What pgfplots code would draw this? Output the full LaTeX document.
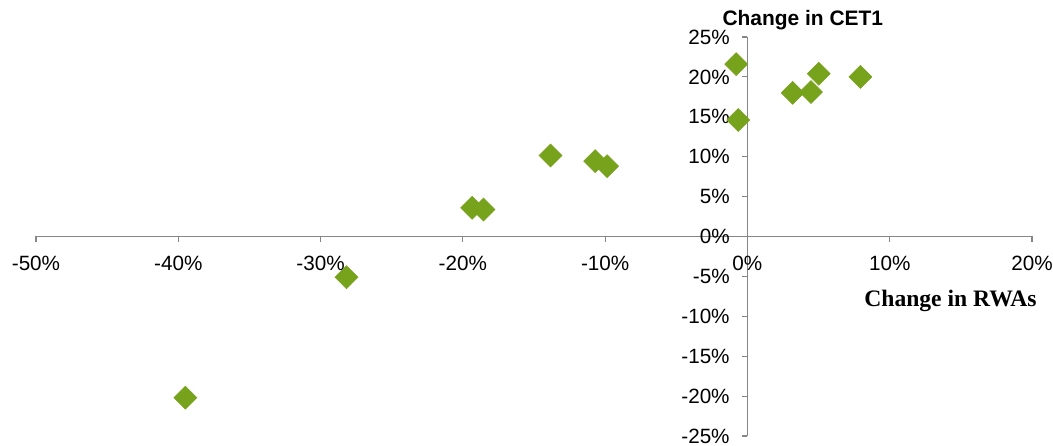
\documentclass[border=0pt]{standalone}
\usepackage{fontspec}
\setmainfont{Liberation Sans}
\newfontfamily\rwafont{Liberation Serif}
\usepackage{pgfplots}
\pgfplotsset{compat=1.18}

\definecolor{markgreen}{RGB}{119,162,28}
\definecolor{axisgray}{RGB}{134,134,134}

\begin{document}
\begin{tikzpicture}
\begin{axis}[
  at={(0,0)}, anchor=south west,
  scale only axis, width=747pt, height=299.25pt,
  xmin=-50, xmax=20, ymin=-25, ymax=25,
  axis x line=middle, axis y line=middle,
  axis line style={-, draw=axisgray, line width=0.9pt},
  tick style={draw=axisgray, line width=0.9pt},
  major tick length=3.75pt,
  tick align=outside,
  hide obscured x ticks=false, hide obscured y ticks=false,
  xtick={-50,-40,-30,-20,-10,0,10,20},
  ytick={-25,-20,-15,-10,-5,0,5,10,15,20,25},
  xticklabels={-50\%,-40\%,-30\%,-20\%,-10\%,0\%,10\%,20\%},
  yticklabels={-25\%,-20\%,-15\%,-10\%,-5\%,0\%,5\%,10\%,15\%,20\%,25\%},
  ticklabel style={font=\fontsize{15.5}{18}\selectfont, text=black},
  xticklabel style={anchor=north, inner sep=0pt, yshift=-11pt},
  yticklabel style={anchor=east, inner sep=0pt, xshift=-9.4pt},
  clip=false,
]
% bank-level changes: RWAs (x) against CET1 capital (y), in percent
\addplot[only marks, mark=square*, mark size=6.1pt,
  mark options={rotate=45, fill=markgreen, draw=markgreen}]
  coordinates {
    (-0.79,21.6) (-0.65,14.6) (3.18,18.0) (4.47,18.1) (5.01,20.4) (7.94,20.0)
    (-13.84,10.15) (-10.7,9.44) (-9.86,8.81) (-19.35,3.6) (-18.55,3.38)
    (-28.18,-5.1) (-39.5,-20.2)
  };
\node[anchor=base, font=\fontsize{15.7}{18}\selectfont\bfseries]
  at (axis cs:3.89,26.42) {Change in CET1};
\node[anchor=base, font=\fontsize{17.7}{20}\selectfont\rwafont\bfseries]
  at (axis cs:14.27,-8.81) {Change in RWAs};
\end{axis}
\pgfresetboundingbox
\path[use as bounding box] (-27pt,-7.5pt) rectangle (762.75pt,327pt);
\end{tikzpicture}
\end{document}
